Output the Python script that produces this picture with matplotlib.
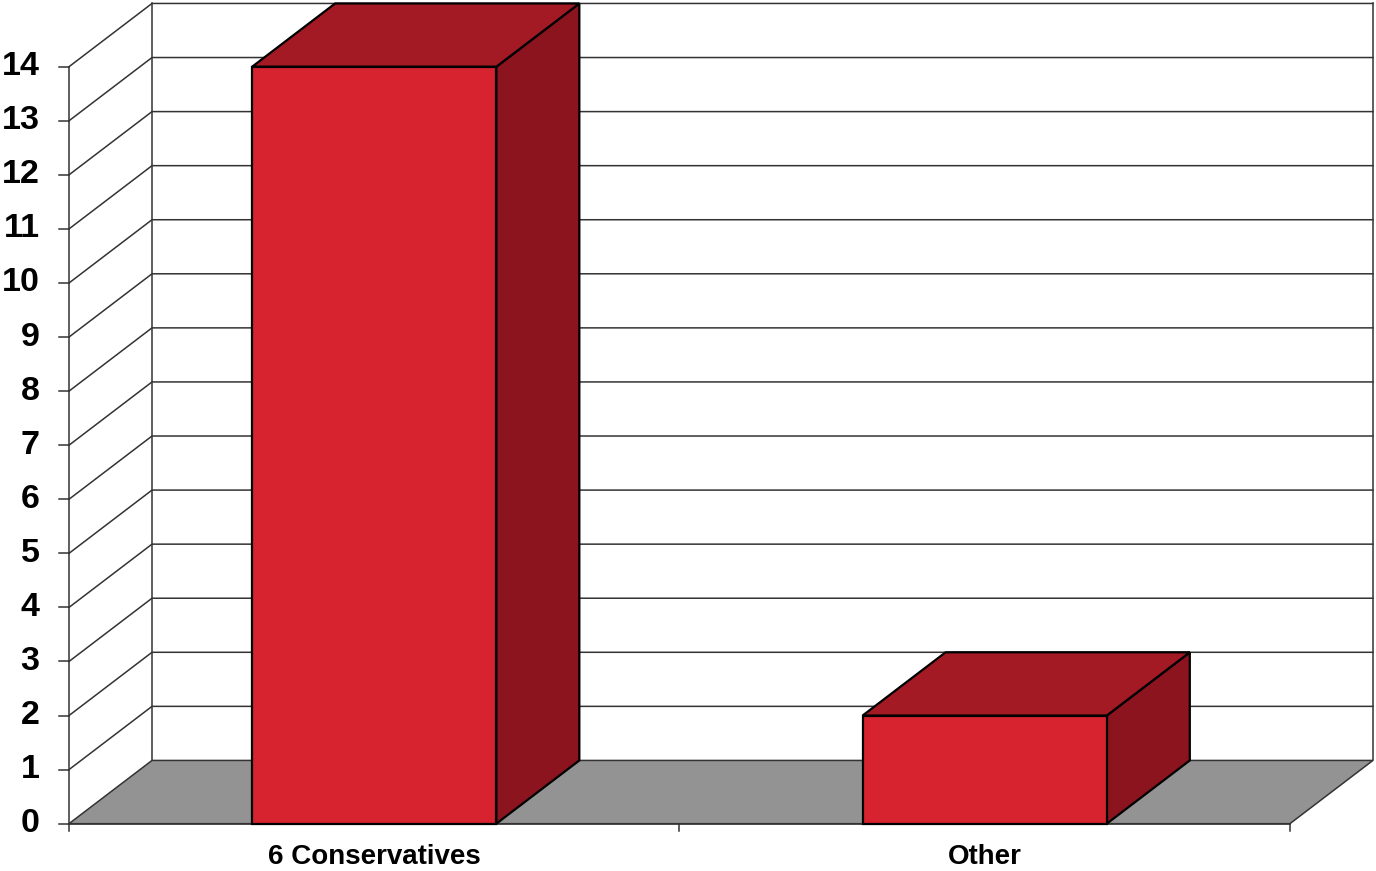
import matplotlib
matplotlib.use('Agg')
import matplotlib.pyplot as plt
from matplotlib.patches import Polygon

# data
categories = ['6 Conservatives', 'Other']
values = [14, 2]
y_ticks = list(range(0, 15))

# colours
front_color = '#D72230'
top_color = '#A31A25'
side_color = '#8B141F'
floor_color = '#939393'
grid_color = '#333333'

fontsize_ticks = 24.5
fontsize_cats = 20

# depth offset of the 3d box (in data units)
DX = 0.136
DY = 1.17
bar_width = 0.4
y_max = 14


def proj(x, y, d):
    return (x + d * DX, y + d * DY)


def face(ax, pts, color, lw=0.0, ec='none', z=1):
    ax.add_patch(Polygon(pts, closed=True, facecolor=color, edgecolor=ec,
                         linewidth=lw, zorder=z, joinstyle='miter'))


fig = plt.figure(figsize=(13.76, 8.71), dpi=100)
ax = fig.add_axes([0, 0, 1, 1])
ax.set_xlim(-0.113, 2.141)
ax.set_ylim(-0.875, 15.234)
ax.axis('off')

n = len(categories)

# walls
face(ax, [proj(0, 0, 0), proj(0, y_max, 0), proj(0, y_max, 1), proj(0, 0, 1)], 'white')
face(ax, [proj(0, 0, 1), proj(n, 0, 1), proj(n, y_max, 1), proj(0, y_max, 1)], 'white')
face(ax, [proj(0, 0, 0), proj(n, 0, 0), proj(n, 0, 1), proj(0, 0, 1)], floor_color,
     lw=1.1, ec=grid_color, z=1.5)

# gridlines on back and left walls
for v in y_ticks[1:]:
    xs, ys = zip(proj(0, v, 0), proj(0, v, 1), proj(n, v, 1))
    ax.plot(xs, ys, color=grid_color, lw=1.1, zorder=2)

# wall edges
for pts in [[proj(0, 0, 0), proj(0, y_max, 0)],
            [proj(0, 0, 1), proj(0, y_max, 1)],
            [proj(n, 0, 1), proj(n, y_max, 1)]]:
    xs, ys = zip(*pts)
    ax.plot(xs, ys, color=grid_color, lw=1.1, zorder=2)

# y ticks and labels
for v in y_ticks:
    ax.plot([-0.016, 0], [v, v], color=grid_color, lw=1.1, zorder=2)
    ax.text(-0.048, v, str(v), ha='right', va='center', fontsize=fontsize_ticks,
            fontweight='bold', family='Liberation Sans')

# x axis ticks
for i in range(n + 1):
    ax.plot([i, i], [0, -0.13], color=grid_color, lw=1.1, zorder=2)
ax.plot([0, n], [0, 0], color=grid_color, lw=1.1, zorder=2)

# bars
for i, (cat, val) in enumerate(zip(categories, values)):
    x0 = i + 0.5 - bar_width / 2
    x1 = i + 0.5 + bar_width / 2
    face(ax, [proj(x1, 0, 0), proj(x1, 0, 1), proj(x1, val, 1), proj(x1, val, 0)],
         side_color, lw=1.6, ec='black', z=3)
    face(ax, [proj(x0, val, 0), proj(x1, val, 0), proj(x1, val, 1), proj(x0, val, 1)],
         top_color, lw=1.6, ec='black', z=3)
    face(ax, [proj(x0, 0, 0), proj(x1, 0, 0), proj(x1, val, 0), proj(x0, val, 0)],
         front_color, lw=1.6, ec='black', z=4)
    ax.text(i + 0.5, -0.62, cat, ha='center', va='center', fontsize=fontsize_cats,
            fontweight='bold', family='Liberation Sans')

fig.savefig('out.png', dpi=100)
